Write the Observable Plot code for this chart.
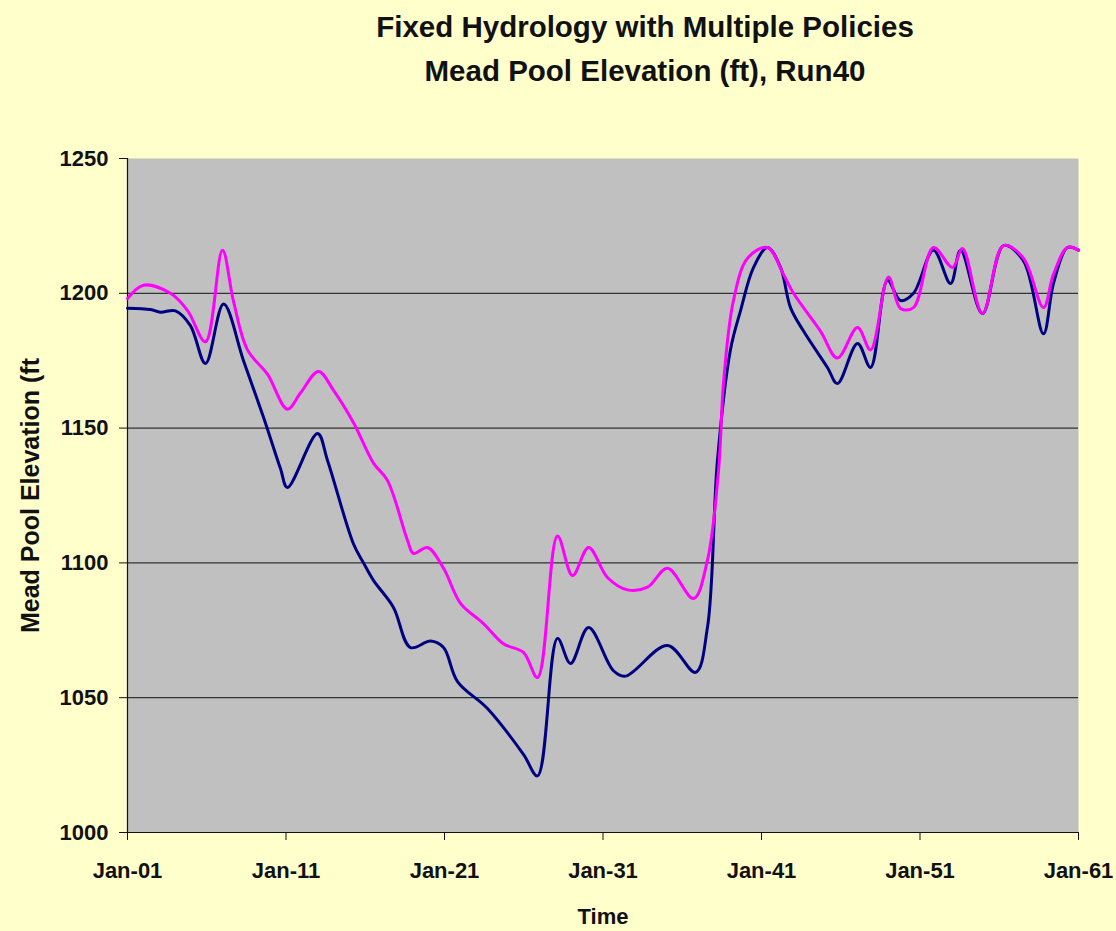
<!DOCTYPE html>
<html>
<head>
<meta charset="utf-8">
<script src="https://cdn.jsdelivr.net/npm/d3@7"></script>
<script src="https://cdn.jsdelivr.net/npm/@observablehq/plot@0.6"></script>
<style>
  html, body { margin: 0; padding: 0; background: #ffffcc; }
  #title { height: 110px; box-sizing: border-box; padding-top: 5px; margin-left: 174px; width: 942px;
           text-align: center; font-family: "Liberation Sans", Arial, sans-serif; font-weight: bold;
           font-size: 29.5px; line-height: 44px; color: #111; }
  #chart svg { display: block; }
</style>
</head>
<body>
<div id="title">Fixed Hydrology with Multiple Policies<br>Mead Pool Elevation (ft), Run40</div>
<div id="chart"></div>
<script>
// Years after Jan-01 (2001) and pool elevation (ft)
const policyATime = [0, 1.45, 2.08, 3.03, 3.97, 4.92, 6.06, 7.32, 8.58, 9.65, 10.09, 11.99, 12.62, 14.26, 14.89, 15.52, 16.78, 17.85, 19.12, 19.94, 20.82, 22.71, 24.98, 25.87, 27.13, 27.95, 29.09, 30.66, 31.42, 34.07, 35.84, 36.59, 37.22, 38.04, 38.68, 39.5, 40.38, 41.2, 41.83, 42.65, 44.16, 44.79, 46.06, 46.88, 47.95, 48.77, 49.59, 50.85, 51.93, 52.56, 53.94, 55.27, 56.53, 57.79, 58.42, 59.31, 60];
const policyAElev = [1194.5, 1194, 1193, 1193.5, 1188, 1174, 1196, 1175, 1154, 1135, 1128, 1148, 1138, 1107, 1100, 1093.5, 1083.5, 1068.6, 1071, 1068.6, 1056, 1046, 1029, 1021, 1072, 1062.7, 1076, 1060, 1058, 1069.4, 1059.4, 1076, 1138, 1179, 1193.6, 1209.6, 1217, 1209.6, 1194.7, 1186, 1172.5, 1166.5, 1181.4, 1172.5, 1204.7, 1197.3, 1200, 1216, 1203.6, 1216, 1192.5, 1217.7, 1212, 1185, 1203.6, 1217, 1216];

const policyBTime = [0, 1.01, 2.71, 3.79, 4.92, 5.99, 6.69, 7.57, 8.83, 10.09, 10.91, 12.05, 13.0, 14.26, 15.52, 16.4, 17.67, 18.04, 18.93, 19.94, 21.01, 22.46, 23.72, 24.98, 25.87, 27.13, 28.08, 29.09, 30.28, 31.55, 32.81, 34.07, 35.71, 36.59, 37.3, 37.6, 38.23, 39.12, 40.38, 41.39, 42.02, 43.72, 44.79, 46.06, 46.88, 48.01, 48.77, 49.59, 50.85, 52.05, 52.68, 53.94, 55.27, 56.53, 57.79, 58.42, 59.31, 60];
const policyBElev = [1198, 1203, 1200, 1193.6, 1182, 1216, 1197, 1179, 1170, 1157, 1163, 1171, 1164, 1152, 1137, 1130.6, 1108.3, 1103.5, 1105.7, 1098, 1085, 1077.5, 1070, 1066.8, 1057.5, 1110, 1095.3, 1105.7, 1094.6, 1090, 1091, 1098, 1086.8, 1101, 1135, 1166.5, 1197.3, 1213, 1217, 1207, 1200, 1186, 1176, 1187.3, 1179, 1206, 1194.4, 1194.7, 1217, 1209.6, 1216.6, 1192.5, 1217.7, 1213, 1194.7, 1207, 1217, 1216];

const xTicks = [2001, 2011, 2021, 2031, 2041, 2051, 2061];
const yTicks = [1000, 1050, 1100, 1150, 1200, 1250];
const gridValues = [1050, 1100, 1150, 1200];

const seriesA = policyATime.map((t, i) => ({year: 2001 + t, elev: policyAElev[i]}));
const seriesB = policyBTime.map((t, i) => ({year: 2001 + t, elev: policyBElev[i]}));

const fmtX = d => "Jan-" + String(d % 100).padStart(2, "0");
const fmtY = d => String(d);
const font = "'Liberation Sans', Arial, sans-serif";
const chart = Plot.plot({
  width: 1116,
  height: 821,
  marginLeft: 127,
  marginRight: 38,
  marginTop: 48,
  marginBottom: 99,
  style: {background: "transparent", fontFamily: font, fontSize: "22px", fontWeight: "bold", color: "#111"},
  x: {domain: [2001, 2061], ticks: xTicks, tickFormat: fmtX, label: null},
  y: {domain: [1000, 1250], ticks: yTicks, tickFormat: fmtY, label: null},
  marks: [
    Plot.frame({fill: "#c0c0c0", stroke: "none"}),
    Plot.ruleY(gridValues, {stroke: "#333", strokeWidth: 1.2}),
    Plot.axisX({ticks: xTicks, tickSize: 8, tickPadding: 22, tickFormat: fmtX, label: null, stroke: "#111"}),
    Plot.axisY({ticks: yTicks, tickSize: 8, tickPadding: 11, tickFormat: fmtY, label: null, stroke: "#111"}),
    Plot.ruleX([2001], {stroke: "#111", strokeWidth: 1.2}),
    Plot.ruleY([1000], {stroke: "#111", strokeWidth: 1.2}),
    Plot.line(seriesA, {x: "year", y: "elev", stroke: "#000080", strokeWidth: 3, curve: "catmull-rom"}),
    Plot.line(seriesB, {x: "year", y: "elev", stroke: "#ff00ff", strokeWidth: 3, curve: "catmull-rom"}),
    Plot.text(["Time"], {frameAnchor: "bottom", dy: 91, fontSize: 22, fontWeight: "bold", fill: "#111"}),
    Plot.text(["Mead Pool Elevation (ft"], {frameAnchor: "left", dx: -97, rotate: -90, textAnchor: "middle", fontSize: 25, fontWeight: "bold", fill: "#111"})
  ]
});
document.getElementById("chart").appendChild(chart);
</script>
</body>
</html>
